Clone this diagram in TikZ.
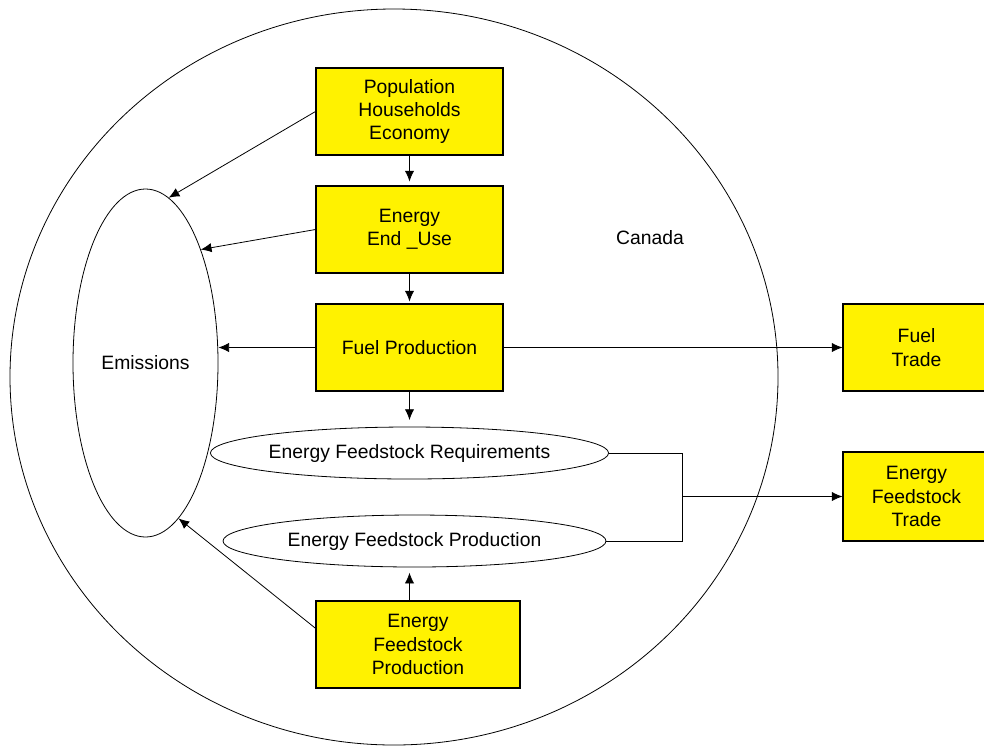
\documentclass[tikz,border=0pt]{standalone}
\usepackage{fontspec}
\setmainfont{Liberation Sans}
\usetikzlibrary{positioning}
\usetikzlibrary{arrows.meta}
\usetikzlibrary{shapes.geometric}

\begin{document}
\begin{tikzpicture}[x=0.75pt, y=-0.75pt, font=\fontsize{14.5}{17.5}\selectfont, line width=0.6pt,
    >={Latex[length=8pt, width=7pt]},
    yellowbox/.style={draw, fill=yellow, inner sep=0pt, align=center, line width=0.8pt,
      minimum width=140.25pt, minimum height=65.25pt},
    oval/.style={draw, ellipse, inner sep=0pt, minimum height=39pt}]
    % frame
    \clip (0, 0) rectangle (984, 747);
    \fill[white] (0, 0) rectangle (984, 747);

    % Canada
    \draw (394, 377) ellipse [x radius=288pt, y radius=276pt];
    \node (canada) at (650, 238) {Canada};

    % boxes
    \node[yellowbox] (pop) at (409.5, 111.5) {Population\\Households\\Economy};
    \node[yellowbox] (enduse) at (409.5, 229.5) {Energy\\End \_Use};
    \node[yellowbox] (fuelprod) at (409.5, 347.5) {Fuel Production};
    \node[yellowbox, minimum width=153pt] (feedprod) at (418, 644.5) {Energy\\Feedstock\\Production};
    \node[yellowbox, minimum width=110.25pt] (fueltrade) at (916.5, 347.5) {Fuel\\Trade};
    \node[yellowbox, minimum width=110.25pt, minimum height=66.75pt] (feedtrade) at (916.5, 496.5) {Energy\\Feedstock\\Trade};

    % ellipses
    \node[oval, minimum width=108.75pt, minimum height=261pt] (emis) at (145.5, 363) {Emissions};
    \node[oval, minimum width=294.75pt] (feedreq) at (409.5, 453) {Energy Feedstock Requirements};
    \node[oval, minimum width=287.25pt] (feedell) at (414.5, 541) {Energy Feedstock Production};
    \coordinate (join) at (682, 496.5);

    % down the chain
    \draw[->, shorten >=3pt] (pop) -- (enduse);
    \draw[->, shorten >=1.5pt] (enduse) -- (fuelprod);
    \draw[->, shorten >=5pt] (fuelprod.south) -- (feedreq.north);
    \draw[->, shorten >=4pt] (feedprod.north -| feedreq.north) -- (feedell.south -| feedreq.north);

    % to emissions
    \draw[->] (pop.west) -- (emis.82);
    \draw[->] (enduse.west) -- (emis.64);
    \draw[->] (fuelprod.west) -- (fuelprod.west -| emis.east);
    \draw[->] (feedprod.171) -- (emis.282);

    % trade
    \draw[->] (fuelprod.east) -- (fueltrade.west);
    \draw (feedreq.east) -| (join);
    \draw (feedell.east) -| (join);
    \draw[->] (join) -- (feedtrade.west);
\end{tikzpicture}
\end{document}
